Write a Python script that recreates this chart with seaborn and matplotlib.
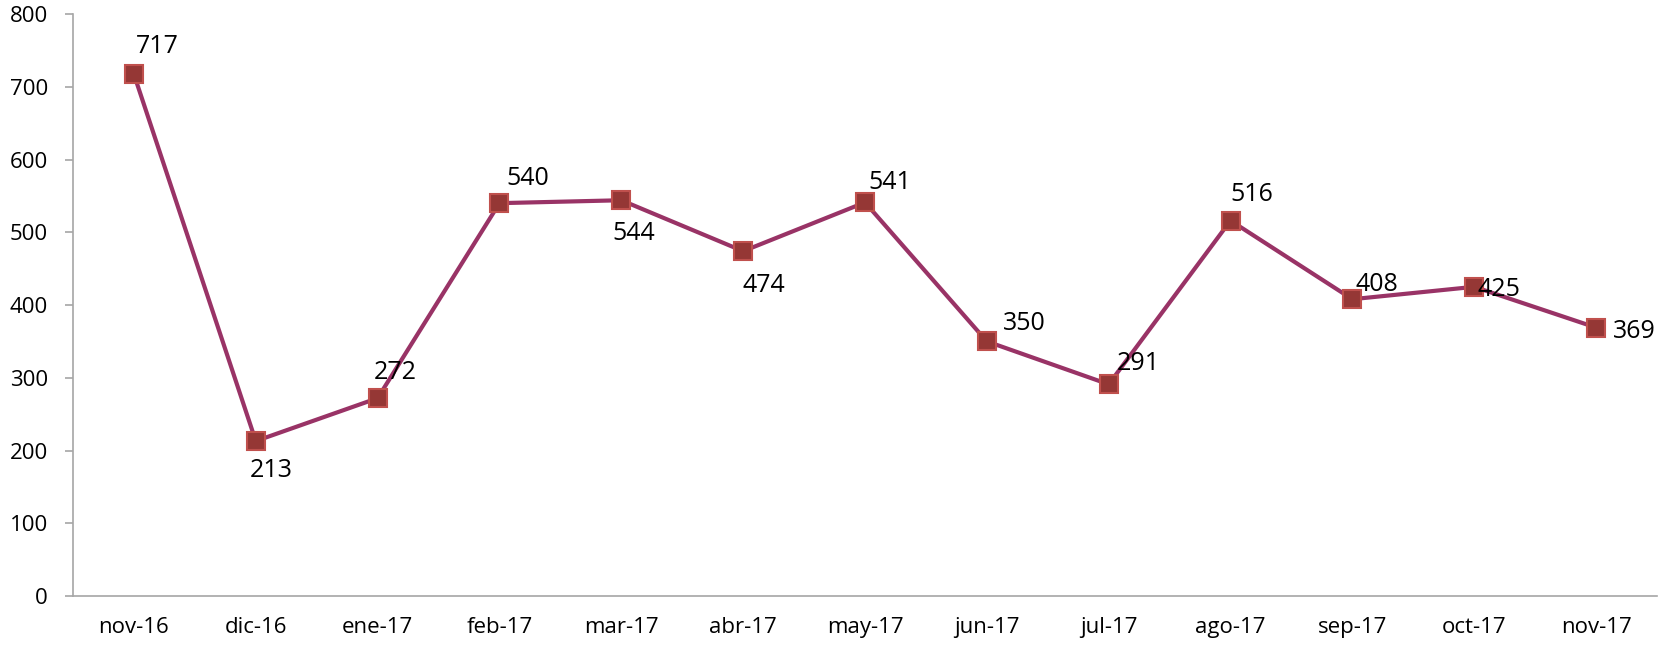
import numpy as np
import pandas as pd
import matplotlib
matplotlib.use("Agg")
import matplotlib.pyplot as plt
import seaborn as sns

# --- data ---
months = ['nov-16', 'dic-16', 'ene-17', 'feb-17', 'mar-17', 'abr-17', 'may-17',
          'jun-17', 'jul-17', 'ago-17', 'sep-17', 'oct-17', 'nov-17']
values = [717, 213, 272, 540, 544, 474, 541, 350, 291, 516, 408, 425, 369]

# label offsets in pixels (Excel placed them by hand)
label_offsets = [(23, 28), (15, -29), (18, 26), (28, 25), (12, -33), (21, -34), (25, 20),
                 (37, 18), (30, 21), (21, 26), (25, 15), (25, -3), (38, -4)]

df = pd.DataFrame({'pos': np.arange(len(months)), 'value': values})

sns.set_style("white")
plt.rcParams['font.family'] = ['Open Sans', 'DejaVu Sans']

fig = plt.figure(figsize=(16.71, 6.48), dpi=100)
ax = fig.add_axes([0.0437, 0.0802, 0.9479, 0.8982])

sns.lineplot(data=df, x='pos', y='value', ax=ax, color='#993366', linewidth=3,
             marker='s', markersize=13, markerfacecolor='#953735',
             markeredgecolor='#C0504D', markeredgewidth=1.5)

for x, v, (dx, dy) in zip(df['pos'], df['value'], label_offsets):
    ax.annotate(str(v), (x, v), xytext=(dx, dy), textcoords='offset pixels',
                ha='center', va='center', fontsize=18, color='black')

ax.set_xlim(-0.5, len(months) - 0.5)
ax.set_ylim(0, 800)
ax.set_yticks(range(0, 801, 100))
ax.set_xticks(df['pos'])
ax.set_xticklabels(months)
ax.set_xlabel('')
ax.set_ylabel('')

for side in ['top', 'right']:
    ax.spines[side].set_visible(False)
for side in ['left', 'bottom']:
    ax.spines[side].set_color('#A6A6A6')
    ax.spines[side].set_linewidth(1.2)

ax.tick_params(axis='y', length=6, width=1.2, color='#A6A6A6', pad=12, labelsize=16,
               labelcolor='black', left=True)
ax.tick_params(axis='x', length=0, pad=15, labelsize=16, labelcolor='black')
ax.grid(False)

fig.savefig('out.png', dpi=100)
